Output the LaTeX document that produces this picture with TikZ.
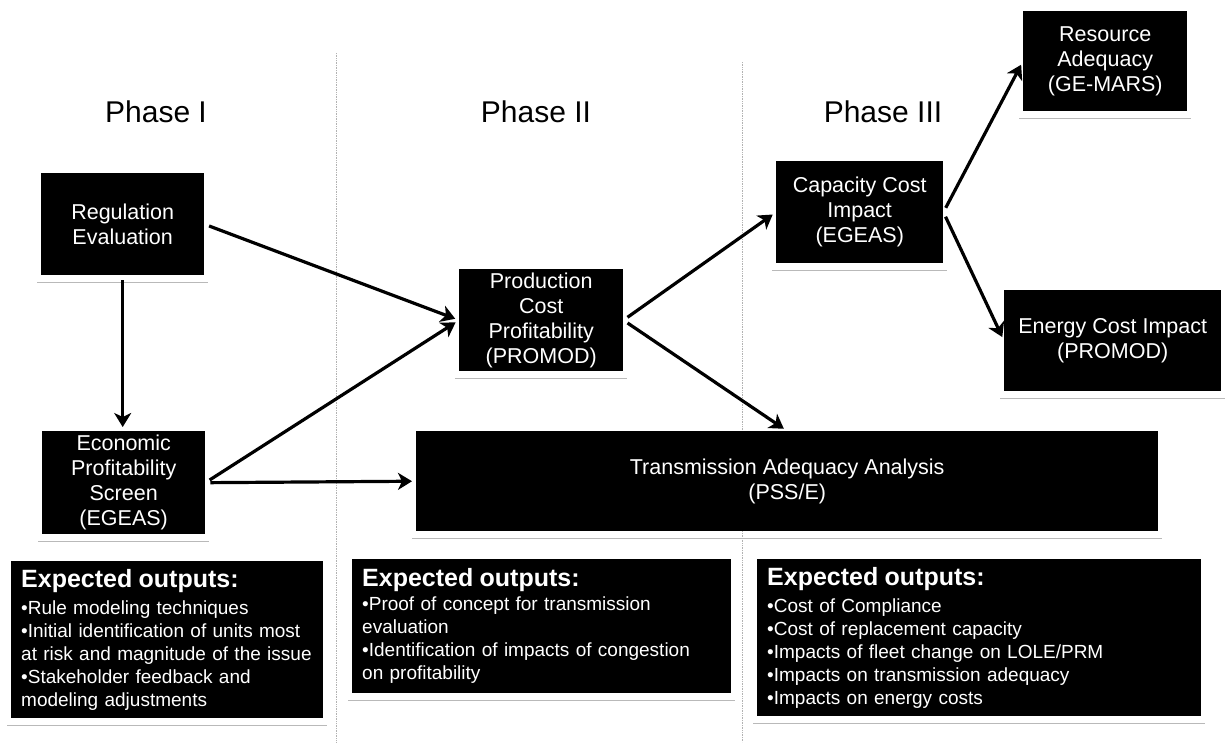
\documentclass[tikz,border=0pt]{standalone}
\usepackage{fontspec}
\setmainfont{Liberation Sans}
\usetikzlibrary{arrows.meta,calc}
\begin{document}
\begin{tikzpicture}[x=1pt,y=-1pt,
  box/.style={fill=black,text=white,draw=none,inner sep=0pt,align=center,
    anchor=north west,font=\fontsize{21.5}{25}\selectfont},
  outbox/.style={fill=black,text=white,draw=none,inner xsep=10pt,inner ysep=0pt,
    align=left,anchor=north west,font=\fontsize{19}{23}\selectfont},
  phase/.style={anchor=base,font=\fontsize{30}{34}\selectfont},
  divider/.style={draw=gray!60,line width=0.7pt,densely dotted},
  shadowline/.style={draw=gray!55,line width=1.1pt},
  flow/.style={draw=black,line width=3.2pt,
    -{Stealth[length=14pt,width=17pt,inset=4pt]},shorten <=5pt,shorten >=4pt}]
\useasboundingbox (0,0) rectangle (1226,742);
\fill[white] (0,0) rectangle (1226,742);

% phase dividers
\coordinate (d1t) at (336,53);
\coordinate (d1b) at (336,742);
\coordinate (d2t) at (742,62);
\coordinate (d2b) at (742,742);
\draw[divider] (d1t) -- (d1b);
\draw[divider] (d2t) -- (d2b);

% headings
\node[phase] (ph1) at (156,122) {Phase I};
\node[phase] (ph2) at (536,122) {Phase II};
\node[phase] (ph3) at (883,122) {Phase III};

% process boxes
\node[box,minimum width=163pt,minimum height=102pt] (reg) at (41,173) {Regulation\\Evaluation};
\node[box,minimum width=163pt,minimum height=103pt] (econ) at (42,431) {Economic\\Profitability\\Screen\\(EGEAS)};
\node[box,minimum width=164pt,minimum height=102pt] (prod) at (459,269) {Production\\Cost\\Profitability\\(PROMOD)};
\node[box,minimum width=167pt,minimum height=102pt] (cap) at (776,161) {Capacity Cost\\Impact\\(EGEAS)};
\node[box,minimum width=164pt,minimum height=100pt] (res) at (1023,11) {Resource\\Adequacy\\(GE-MARS)};
\node[box,minimum width=217pt,minimum height=101pt] (energy) at (1004,290) {Energy Cost Impact\\(PROMOD)};
\node[box,minimum width=742pt,minimum height=100pt] (trans) at (416,431) {Transmission Adequacy Analysis\\(PSS/E)};

% expected outputs
\node[outbox,minimum width=312pt,minimum height=157pt,text width=292pt] (out1) at (11,561)
  {{\fontsize{25}{28}\selectfont\bfseries Expected outputs:}\\[4pt]
   •Rule modeling techniques\\
   •Initial identification of units most\\
   at risk and magnitude of the issue\\
   •Stakeholder feedback and\\
   modeling adjustments};
\node[outbox,minimum width=379pt,minimum height=134pt,text width=359pt] (out2) at (352,559)
  {{\fontsize{25}{28}\selectfont\bfseries Expected outputs:}\\[1pt]
   •Proof of concept for transmission\\
   evaluation\\
   •Identification of impacts of congestion\\
   on profitability};
\node[outbox,minimum width=444pt,minimum height=157pt,text width=424pt] (out3) at (757,559)
  {{\fontsize{25}{28}\selectfont\bfseries Expected outputs:}\\[4pt]
   •Cost of Compliance\\
   •Cost of replacement capacity\\
   •Impacts of fleet change on LOLE/PRM\\
   •Impacts on transmission adequacy\\
   •Impacts on energy costs};

% shadow lines under boxes
\foreach \n in {reg,econ,prod,cap,res,energy,trans,out1,out2,out3}{
  \draw[shadowline] ([xshift=-4pt,yshift=-7pt]\n.south west) -- ([xshift=4pt,yshift=-7pt]\n.south east);
}

% connectors
\draw[flow] (reg.south) -- (reg.south |- econ.north);
\draw[flow] (reg.east) -- (prod.west);
\draw[flow] (econ.east) -- (prod.west);
\draw[flow] (econ.east) -- (trans.west);
\draw[flow] (prod.east) -- (cap.west);
\draw[flow] (prod.east) -- (trans.north);
\draw[flow] (cap.east) -- (res.west);
\draw[flow] (cap.east) -- (energy.west);
\end{tikzpicture}
\end{document}
